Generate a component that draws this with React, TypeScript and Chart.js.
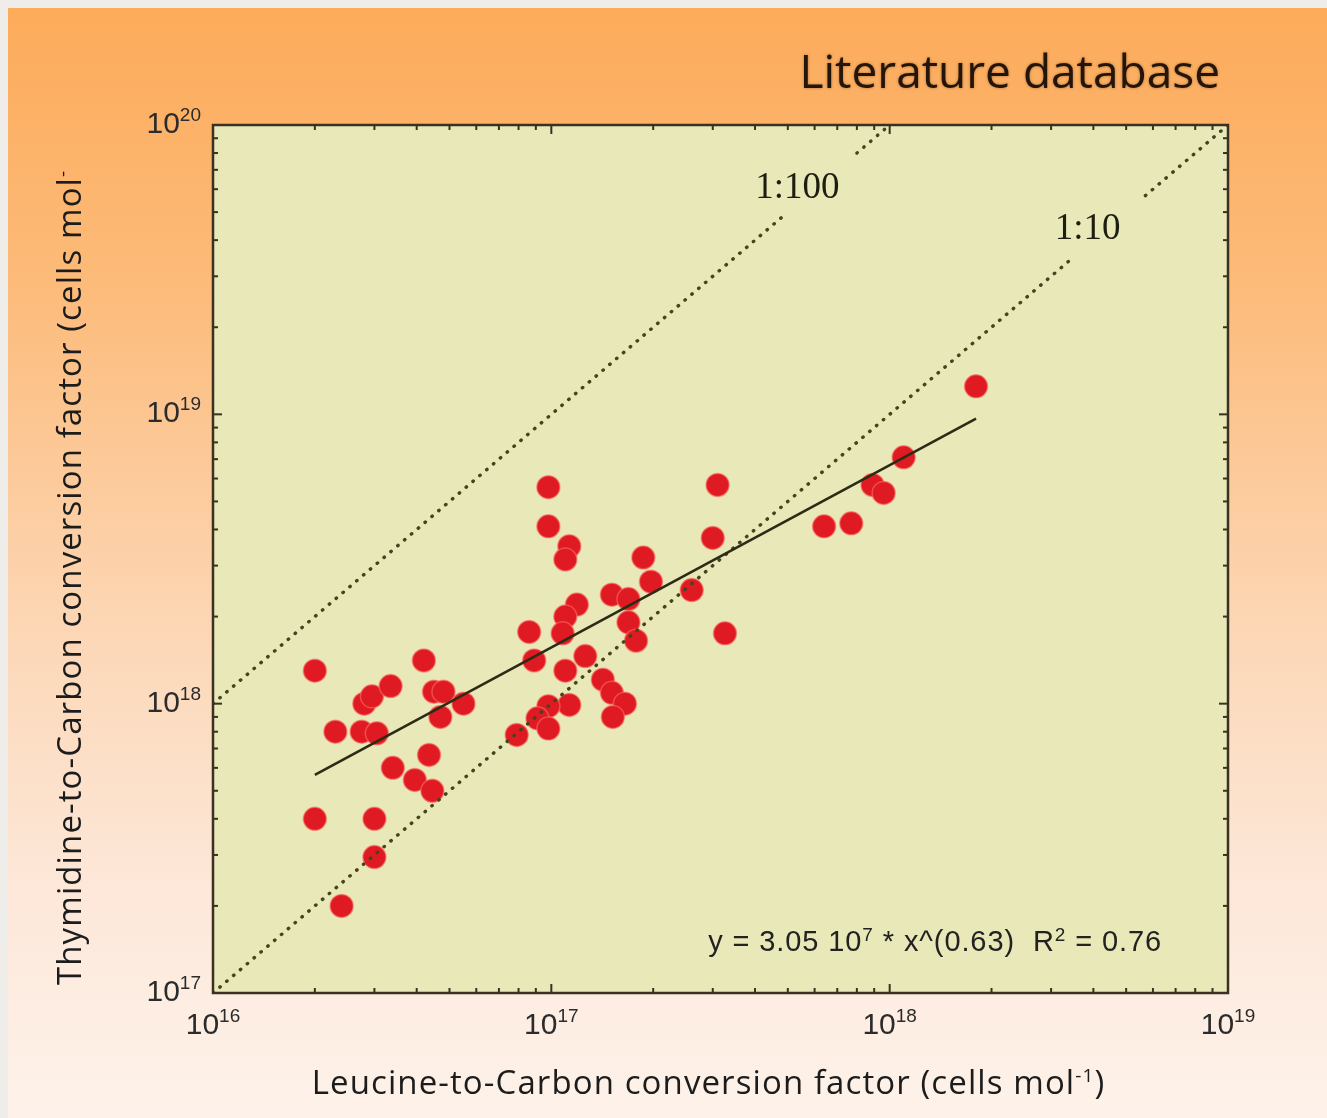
import React, { useEffect, useRef } from "react";
import { Chart, registerables } from "chart.js";

Chart.register(...registerables);

// Leucine-to-carbon (x) and thymidine-to-carbon (y) conversion factors, cells mol^-1
const LEUCINE = [
  2.0e16, 2.0e16, 2.3e16, 2.4e16, 2.8e16, 2.95e16, 2.75e16, 3.05e16, 3.35e16, 3.4e16,
  3.0e16, 3.0e16, 4.2e16, 4.5e16, 4.8e16, 4.7e16, 5.5e16, 4.35e16, 3.95e16, 4.45e16,
  9.8e16, 9.8e16, 1.13e17, 1.1e17, 1.87e17, 1.97e17, 3.1e17, 3.0e17, 2.6e17, 3.26e17,
  1.51e17, 1.69e17, 1.69e17, 1.78e17, 1.19e17, 1.1e17, 1.08e17, 8.6e16, 8.9e16, 1.26e17,
  1.1e17, 1.42e17, 1.51e17, 1.65e17, 1.52e17, 1.13e17, 9.8e16, 9.1e16, 9.8e16, 7.9e16,
  6.4e17, 7.7e17, 8.9e17, 9.6e17, 1.1e18, 1.8e18,
];
const THYMIDINE = [
  1.3e18, 4.0e17, 8.0e17, 2.0e17, 1.0e18, 1.06e18, 8.0e17, 7.9e17, 1.15e18, 6.0e17,
  4.0e17, 2.95e17, 1.41e18, 1.1e18, 1.1e18, 9.0e17, 1.0e18, 6.65e17, 5.45e17, 5.0e17,
  5.6e18, 4.1e18, 3.5e18, 3.15e18, 3.2e18, 2.64e18, 5.7e18, 3.74e18, 2.47e18, 1.75e18,
  2.38e18, 2.3e18, 1.91e18, 1.65e18, 2.2e18, 2.0e18, 1.75e18, 1.77e18, 1.41e18, 1.46e18,
  1.3e18, 1.21e18, 1.09e18, 1.0e18, 9.0e17, 9.9e17, 9.8e17, 8.9e17, 8.2e17, 7.8e17,
  4.1e18, 4.2e18, 5.7e18, 5.35e18, 7.1e18, 1.25e19,
];

// Axis decades (tick labels are 10^exponent)
const X_DECADES = [16, 17, 18, 19];
const Y_DECADES = [17, 18, 19, 20];

// Power-law regression y = a * 10^e * x^b
const FIT_MANTISSA = 3.05;
const FIT_EXPONENT = 7;
const FIT_SLOPE = 0.63;
const FIT_R2 = 0.76;
const FIT_X_RANGE = [2.0e16, 1.8e18];

// Reference ratio lines (Leu:TdR) with the stretch left open for the label
const RATIO_LABELS = ["1:100", "1:10"];
const RATIO_FACTORS = [100, 10];
const RATIO_GAPS = [
  [4.8e17, 8.0e17],
  [3.5e18, 5.7e18],
];

const TITLE = "Literature database";
const X_TITLE = "Leucine-to-Carbon conversion factor (cells mol";
const Y_TITLE = "Thymidine-to-Carbon conversion factor (cells mol";

const HAND_FONT = '"Comic Sans MS", "Open Sans", sans-serif';
const SANS_FONT = '"Liberation Sans", Arial, sans-serif';
const SERIF_FONT = '"Liberation Serif", "Times New Roman", serif';
const INK = "#3a3120";

type Run = { text: string; sup?: boolean };

function drawRuns(
  ctx: CanvasRenderingContext2D,
  runs: Run[],
  x: number,
  y: number,
  family: string,
  size: number,
  supSize: number,
  supRise: number,
  align: "left" | "center" | "right",
  spacing = 0
) {
  (ctx as any).letterSpacing = `${spacing}px`;
  const widths = runs.map((r) => {
    ctx.font = `${r.sup ? supSize : size}px ${family}`;
    return ctx.measureText(r.text).width;
  });
  const total = widths.reduce((a, b) => a + b, 0);
  let cx = align === "right" ? x - total : align === "center" ? x - total / 2 : x;
  ctx.textAlign = "left";
  ctx.textBaseline = "alphabetic";
  runs.forEach((r, i) => {
    ctx.font = `${r.sup ? supSize : size}px ${family}`;
    ctx.fillText(r.text, cx, r.sup ? y - supRise : y);
    cx += widths[i];
  });
  (ctx as any).letterSpacing = "0px";
}

const decorPlugin = {
  id: "decor",
  beforeDraw(chart: any) {
    const { ctx, width, height, chartArea } = chart;
    ctx.save();
    const g = ctx.createLinearGradient(0, 0, 0, height);
    g.addColorStop(0, "#fcab5a");
    g.addColorStop(0.25, "#fcbb7a");
    g.addColorStop(0.55, "#fcd6b4");
    g.addColorStop(0.8, "#fde8da");
    g.addColorStop(1, "#fdf2ea");
    ctx.fillStyle = g;
    ctx.fillRect(0, 0, width, height);
    ctx.fillStyle = "#e8e8b8";
    ctx.fillRect(chartArea.left, chartArea.top, chartArea.right - chartArea.left, chartArea.bottom - chartArea.top);
    ctx.restore();
  },
  afterDraw(chart: any) {
    const { ctx, chartArea } = chart;
    const xs = chart.scales.x;
    const ys = chart.scales.y;
    const { left, right, top, bottom } = chartArea;
    ctx.save();

    // inward tick marks on all four sides
    ctx.strokeStyle = INK;
    ctx.lineWidth = 2;
    const tick = (x1: number, y1: number, x2: number, y2: number) => {
      ctx.beginPath();
      ctx.moveTo(x1, y1);
      ctx.lineTo(x2, y2);
      ctx.stroke();
    };
    for (let d = X_DECADES[0]; d < X_DECADES[X_DECADES.length - 1]; d++) {
      for (let m = 1; m <= 9; m++) {
        if (d === X_DECADES[0] && m === 1) continue;
        const px = xs.getPixelForValue(m * Math.pow(10, d));
        const len = m === 1 ? 9 : 5;
        tick(px, bottom, px, bottom - len);
        tick(px, top, px, top + len);
      }
    }
    for (let d = Y_DECADES[0]; d < Y_DECADES[Y_DECADES.length - 1]; d++) {
      for (let m = 1; m <= 9; m++) {
        if (d === Y_DECADES[0] && m === 1) continue;
        const py = ys.getPixelForValue(m * Math.pow(10, d));
        const len = m === 1 ? 9 : 5;
        tick(left, py, left + len, py);
        tick(right, py, right - len, py);
      }
    }

    // frame
    ctx.lineWidth = 2.5;
    ctx.strokeRect(left, top, right - left, bottom - top);

    // tick labels
    ctx.fillStyle = "#2b2b2b";
    X_DECADES.forEach((e) => {
      const px = xs.getPixelForValue(Math.pow(10, e));
      drawRuns(ctx, [{ text: "10" }, { text: String(e), sup: true }], px, bottom + 41, SANS_FONT, 30, 19, 12, "center");
    });
    Y_DECADES.forEach((e) => {
      const py = ys.getPixelForValue(Math.pow(10, e));
      drawRuns(ctx, [{ text: "10" }, { text: String(e), sup: true }], left - 12, py + 8, SANS_FONT, 30, 19, 12, "right");
    });

    // ratio line labels, set in the open stretch of each line
    ctx.fillStyle = "#1e1e10";
    RATIO_LABELS.forEach((label, i) => {
      const gx = Math.sqrt(RATIO_GAPS[i][0] * RATIO_GAPS[i][1]);
      const px = xs.getPixelForValue(gx);
      const py = ys.getPixelForValue(gx * RATIO_FACTORS[i]);
      ctx.font = `37px ${SERIF_FONT}`;
      ctx.textAlign = "center";
      ctx.textBaseline = "alphabetic";
      ctx.fillText(label, px - 22, py + 13);
    });

    // regression equation
    ctx.fillStyle = "#222222";
    drawRuns(
      ctx,
      [
        { text: `y = ${FIT_MANTISSA.toFixed(2)} 10` },
        { text: String(FIT_EXPONENT), sup: true },
        { text: ` * x^(${FIT_SLOPE.toFixed(2)})  R` },
        { text: "2", sup: true },
        { text: ` = ${FIT_R2.toFixed(2)}` },
      ],
      right - 66,
      bottom - 42,
      SANS_FONT,
      29,
      19,
      10,
      "right",
      0.9
    );

    // chart title
    ctx.fillStyle = "#24150a";
    ctx.shadowColor = "rgba(70,35,0,0.45)";
    ctx.shadowBlur = 3;
    ctx.font = `46px ${HAND_FONT}`;
    ctx.textAlign = "right";
    ctx.textBaseline = "alphabetic";
    ctx.fillText(TITLE, right - 8, top - 37);
    ctx.shadowBlur = 0;
    ctx.shadowColor = "transparent";

    // axis titles
    ctx.fillStyle = "#1c1c1c";
    drawRuns(
      ctx,
      [{ text: X_TITLE }, { text: "-1", sup: true }, { text: ")" }],
      (left + right) / 2 - 12,
      bottom + 101,
      HAND_FONT,
      33,
      19,
      12,
      "center",
      1.1
    );
    ctx.save();
    ctx.translate(left - 142, bottom - 8);
    ctx.rotate(-Math.PI / 2);
    drawRuns(ctx, [{ text: Y_TITLE }, { text: "-", sup: true }], 0, 10, HAND_FONT, 33, 19, 12, "left", 1.1);
    ctx.restore();

    ctx.restore();
  },
};

export default function App() {
  const canvasRef = useRef<HTMLCanvasElement | null>(null);

  useEffect(() => {
    const canvas = canvasRef.current;
    if (!canvas) return;

    const points = LEUCINE.map((x, i) => ({ x, y: THYMIDINE[i] }));
    const fitLine = FIT_X_RANGE.map((x) => ({
      x,
      y: FIT_MANTISSA * Math.pow(10, FIT_EXPONENT) * Math.pow(x, FIT_SLOPE),
    }));
    const xMin = Math.pow(10, X_DECADES[0]);
    const xMax = Math.pow(10, X_DECADES[X_DECADES.length - 1]);
    const yMax = Math.pow(10, Y_DECADES[Y_DECADES.length - 1]);

    const ratioSets: any[] = [];
    RATIO_FACTORS.forEach((f, i) => {
      const xEnd = Math.min(xMax, yMax / f);
      const segs = [
        [xMin, RATIO_GAPS[i][0]],
        [RATIO_GAPS[i][1], xEnd],
      ];
      segs.forEach(([a, b]) => {
        ratioSets.push({
          label: RATIO_LABELS[i],
          data: [
            { x: a, y: a * f },
            { x: b, y: b * f },
          ],
          showLine: true,
          pointRadius: 0,
          borderColor: "#46441f",
          borderWidth: 3.4,
          borderDash: [0.5, 8.5],
          borderCapStyle: "round",
          order: 1,
        });
      });
    });

    const chart = new Chart(canvas, {
      type: "scatter",
      data: {
        datasets: [
          {
            label: "Studies",
            data: points,
            pointRadius: 11.5,
            pointBackgroundColor: "#e01a22",
            pointBorderColor: "rgba(250,110,100,0.6)",
            pointBorderWidth: 1.5,
            order: 3,
          },
          ...ratioSets,
          {
            label: "Fit",
            data: fitLine,
            showLine: true,
            pointRadius: 0,
            borderColor: "#2c2c16",
            borderWidth: 2.6,
            order: 0,
          },
        ],
      },
      options: {
        responsive: false,
        animation: false,
        devicePixelRatio: 1,
        layout: { padding: { left: 205, top: 117, right: 99, bottom: 125 } },
        plugins: { legend: { display: false }, tooltip: { enabled: false } },
        scales: {
          x: { type: "logarithmic", display: false, min: xMin, max: xMax },
          y: {
            type: "logarithmic",
            display: false,
            min: Math.pow(10, Y_DECADES[0]),
            max: yMax,
          },
        },
      } as any,
      plugins: [decorPlugin],
    });

    return () => chart.destroy();
  }, []);

  return (
    <div style={{ position: "fixed", inset: 0, background: "#efedea" }}>
      <canvas
        ref={canvasRef}
        width={1319}
        height={1110}
        style={{ position: "absolute", left: 8, top: 8, width: 1319, height: 1110 }}
      />
    </div>
  );
}
